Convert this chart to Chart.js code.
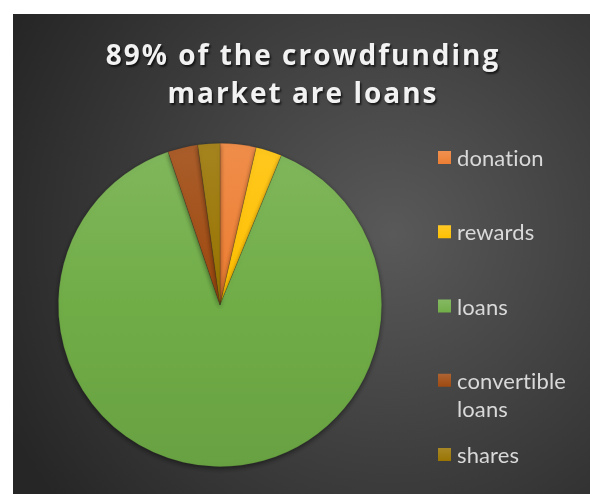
<!DOCTYPE html>
<html>
<head>
<meta charset="utf-8">
<title>Crowdfunding market</title>
<script src="https://cdn.jsdelivr.net/npm/chart.js@4.4.1/dist/chart.umd.min.js"></script>
<style>
    html, body { margin: 0; padding: 0; background: #ffffff; }
    #grafico { position: absolute; left: 13px; top: 14px; }
</style>
</head>
<body>
<canvas id="grafico" width="577" height="480"></canvas>
<script>
// market share by type of crowdfunding, in percent
const categorias = ['donation', 'rewards', 'loans', 'convertible loans', 'shares'];
const percentuais = [3.6, 2.6, 88.6, 3.0, 2.2];
const tituloLinhas = ['89% of the crowdfunding', 'market are loans'];
const cores = ['#ED7D31', '#FFC000', '#70AD47', '#9E480E', '#997300'];

// f > 0 mixes towards white, f < 0 towards black
function misturar(hex, f) {
    const n = parseInt(hex.slice(1), 16);
    const r = (n >> 16) & 255, g = (n >> 8) & 255, b = n & 255;
    const mix = c => Math.round(f >= 0 ? c + (255 - c) * f : c * (1 + f));
    return `rgb(${mix(r)}, ${mix(g)}, ${mix(b)})`;
}

// vertical gradient over the whole pie: lighter on top, darker at the bottom
function gradienteFatia(context) {
    const chart = context.chart;
    const area = chart.chartArea;
    const base = cores[context.dataIndex];
    if (!area) return base;
    const g = chart.ctx.createLinearGradient(0, area.top, 0, area.bottom);
    g.addColorStop(0, misturar(base, 0.12));
    g.addColorStop(0.5, base);
    g.addColorStop(1, misturar(base, -0.07));
    return g;
}

const fundo = {
    id: 'fundo',
    beforeDraw(chart) {
        const { ctx, width, height } = chart;
        ctx.save();
        const g = ctx.createRadialGradient(380, 220, 0, 380, 220, 430);
        g.addColorStop(0, '#595959');
        g.addColorStop(1, '#262626');
        ctx.fillStyle = g;
        ctx.fillRect(0, 0, width, height);
        ctx.restore();
    }
};

// soft shadow under the pie
const sombra = {
    id: 'sombra',
    beforeDatasetsDraw(chart) {
        const ctx = chart.ctx;
        ctx.save();
        ctx.shadowColor = 'rgba(0, 0, 0, 0.45)';
        ctx.shadowBlur = 5;
        ctx.shadowOffsetY = 2;
    },
    afterDatasetsDraw(chart) {
        chart.ctx.restore();
    }
};

const titulo = {
    id: 'titulo',
    afterDraw(chart) {
        const ctx = chart.ctx;
        ctx.save();
        ctx.font = 'bold 28px "Open Sans"';
        ctx.letterSpacing = '2px';
        ctx.textAlign = 'center';
        ctx.textBaseline = 'alphabetic';
        ctx.fillStyle = '#F2F2F2';
        ctx.shadowColor = 'rgba(0, 0, 0, 0.65)';
        ctx.shadowOffsetX = 1.5;
        ctx.shadowOffsetY = 1.5;
        ctx.shadowBlur = 2;
        tituloLinhas.forEach((linha, i) => {
            ctx.fillText(linha, 290, 51 + i * 38);
        });
        ctx.restore();
    }
};

// legend on the right, one slot per category, long names wrap onto a second line
const legenda = {
    id: 'legenda',
    afterDraw(chart, args, opts) {
        const ctx = chart.ctx;
        ctx.save();
        ctx.font = '22px Lato';
        ctx.letterSpacing = '0.1px'; // keeps Lato from joining "ti"
        ctx.textBaseline = 'middle';
        chart.data.labels.forEach((label, i) => {
            const y = opts.topo + i * opts.passo;
            const caixa = ctx.createLinearGradient(0, y - 7, 0, y + 7);
            caixa.addColorStop(0, misturar(cores[i], 0.15));
            caixa.addColorStop(1, cores[i]);
            ctx.fillStyle = caixa;
            ctx.fillRect(opts.x, y - 7, 13, 13);
            ctx.fillStyle = '#D9D9D9';
            const partes = label.length > 12 ? label.split(' ') : [label];
            partes.forEach((p, j) => ctx.fillText(p, opts.x + 19, y + 1 + j * 28));
        });
        ctx.restore();
    }
};

new Chart(document.getElementById('grafico'), {
    type: 'pie',
    data: {
        labels: categorias,
        datasets: [{
            data: percentuais,
            backgroundColor: gradienteFatia,
            borderColor: 'rgba(40, 40, 40, 0.3)',
            borderWidth: 0.6
        }]
    },
    options: {
        responsive: false,
        animation: false,
        devicePixelRatio: 1,
        layout: {
            padding: { top: 129, bottom: 27, left: 45, right: 208 }
        },
        plugins: {
            legend: { display: false },
            title: { display: false },
            tooltip: { enabled: false },
            legenda: { x: 425, topo: 144, passo: 74.25 }
        }
    },
    plugins: [fundo, sombra, titulo, legenda]
});
</script>
</body>
</html>
